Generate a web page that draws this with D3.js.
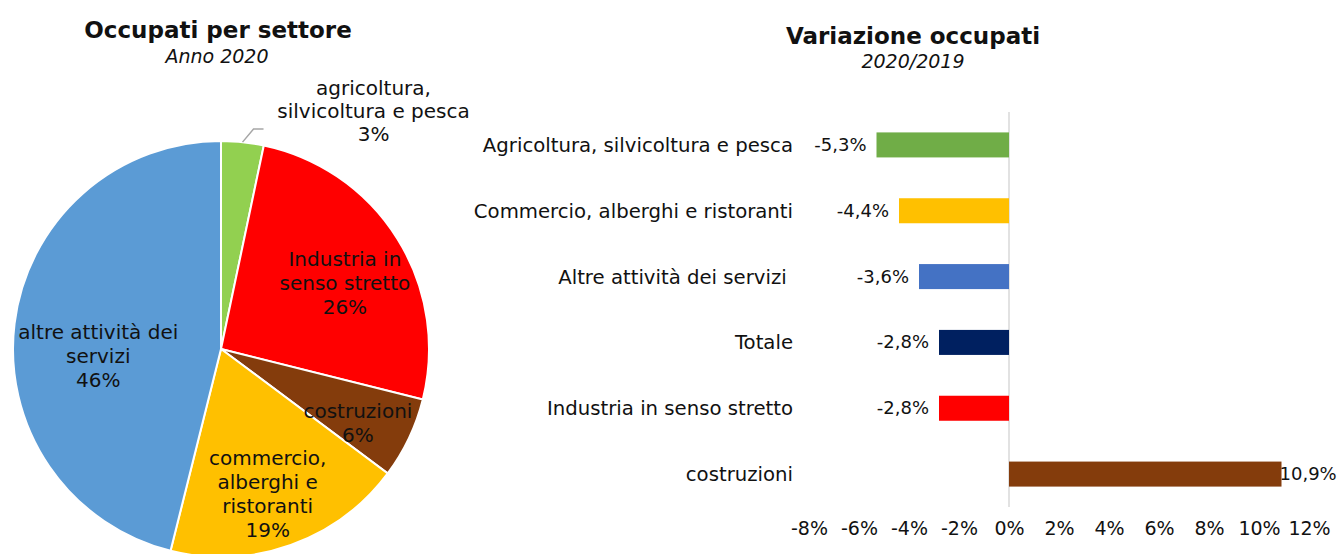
<!DOCTYPE html>
<html>
<head>
<meta charset="utf-8">
<script src="https://cdn.jsdelivr.net/npm/d3@7"></script>
<style>
  body { margin: 0; background: #fff; }
  svg text { font-family: "DejaVu Sans", Verdana, sans-serif; fill: #111; }
</style>
</head>
<body>
<svg id="chart" width="1337" height="554"></svg>
<script>
// pie data (anno 2020)
const pieNames = [
    ["agricoltura,", "silvicoltura e pesca"],
    ["Industria in", "senso stretto"],
    ["costruzioni"],
    ["commercio,", "alberghi e", "ristoranti"],
    ["altre attività dei", "servizi"]
];
const pieValues = [3.3, 25.6, 6.3, 18.7, 46.1];
const pieColors = ["#92D050", "#FF0000", "#843C0C", "#FFC000", "#5B9BD5"];

// bar data (variazione 2020/2019)
const barCategories = [
    "Agricoltura, silvicoltura e pesca",
    "Commercio, alberghi e ristoranti",
    "Altre attività dei servizi ",
    "Totale",
    "Industria in senso stretto",
    "costruzioni"
];
const barValues = [-5.3, -4.4, -3.6, -2.8, -2.8, 10.9];
const barColors = ["#70AD47", "#FFC000", "#4472C4", "#002060", "#FF0000", "#843C0C"];
const tickValues = [-8, -6, -4, -2, 0, 2, 4, 6, 8, 10, 12];

const svg = d3.select("#chart");

// ---------- pie ----------
const cx = 221, cy = 349, radius = 208;
const labelRadius = [null, 0.68, 0.75, 0.74, 0.58]; // how far inside each label sits
const labelShift = [null, [4, 9], [-4, 7], [-5, 0], [-3, 22]]; // small nudges like excel's best fit

const pieGroup = svg.append("g").attr("transform", "translate(" + cx + "," + cy + ")");
const pie = d3.pie().sort(null).value(d => d);
const arcs = pie(pieValues);
const arc = d3.arc().innerRadius(0).outerRadius(radius);

pieGroup.selectAll("path")
    .data(arcs)
    .enter().append("path")
    .attr("d", arc)
    .attr("fill", (d, i) => pieColors[i])
    .attr("stroke", "#fff")
    .attr("stroke-width", 2);

// inside labels
arcs.forEach(function (d, i) {
    if (labelRadius[i] === null) return;
    const r = radius * labelRadius[i];
    const c = d3.arc().innerRadius(r).outerRadius(r).centroid(d);
    const lines = pieNames[i].concat([Math.round(pieValues[i]) + "%"]);
    const t = pieGroup.append("text")
        .attr("text-anchor", "middle")
        .style("font-size", "20px");
    lines.forEach(function (line, k) {
        t.append("tspan")
            .attr("x", c[0] + labelShift[i][0])
            .attr("y", c[1] + labelShift[i][1] + 7 + (k - (lines.length - 1) / 2) * 24)
            .text(line);
    });
});

// outside label for agricoltura with leader line
const edge = d3.arc().innerRadius(radius).outerRadius(radius).centroid(arcs[0]);
pieGroup.append("polyline")
    .attr("points", [edge, [edge[0] + 11, edge[1] - 13], [edge[0] + 21, edge[1] - 13]].map(p => p.join(",")).join(" "))
    .attr("fill", "none")
    .attr("stroke", "#a6a6a6")
    .attr("stroke-width", 1.5);

const outLines = pieNames[0].concat([Math.round(pieValues[0]) + "%"]);
const outText = pieGroup.append("text")
    .attr("text-anchor", "middle")
    .style("font-size", "20px");
outLines.forEach(function (line, k) {
    outText.append("tspan")
        .attr("x", edge[0] + 131)
        .attr("y", edge[1] - 47 + k * 23)
        .text(line);
});

// pie titles
svg.append("text")
    .attr("x", 218).attr("y", 38)
    .attr("text-anchor", "middle")
    .style("font-size", "23px").style("font-weight", "bold")
    .text("Occupati per settore");
svg.append("text")
    .attr("x", 217).attr("y", 63)
    .attr("text-anchor", "middle")
    .style("font-size", "19px").style("font-style", "italic")
    .text("Anno 2020");

// ---------- bars ----------
const x = d3.scaleLinear().domain([-8, 12]).range([809, 1309]);
const y = d3.scaleBand().domain(barCategories).range([112, 507])
    .paddingInner(0.62).paddingOuter(0.31);
const fmt = v => d3.format(".1f")(v).replace("−", "-").replace(".", ",") + "%";

// zero line
svg.append("line")
    .attr("x1", x(0)).attr("x2", x(0))
    .attr("y1", 112).attr("y2", 507)
    .attr("stroke", "#d9d9d9")
    .attr("stroke-width", 1.5);

svg.selectAll(".bar")
    .data(barValues)
    .enter().append("rect")
    .attr("class", "bar")
    .attr("x", d => x(Math.min(0, d)))
    .attr("y", (d, i) => y(barCategories[i]))
    .attr("width", d => Math.abs(x(d) - x(0)))
    .attr("height", y.bandwidth())
    .attr("fill", (d, i) => barColors[i]);

// category labels
svg.selectAll(".cat")
    .data(barCategories)
    .enter().append("text")
    .attr("class", "cat")
    .attr("x", 793)
    .attr("y", d => y(d) + y.bandwidth() / 2 + 7)
    .attr("text-anchor", "end")
    .style("font-size", "19.7px")
    .style("white-space", "pre")
    .text(d => d);

// value labels
svg.selectAll(".val")
    .data(barValues)
    .enter().append("text")
    .attr("class", "val")
    .attr("x", d => d < 0 ? x(d) - 10 : x(d) - 2)
    .attr("y", (d, i) => y(barCategories[i]) + y.bandwidth() / 2 + 6)
    .attr("text-anchor", d => d < 0 ? "end" : "start")
    .style("font-size", "18px")
    .text(fmt);

// x axis
const axis = svg.append("g")
    .attr("transform", "translate(0,517)")
    .call(d3.axisBottom(x).tickValues(tickValues).tickSize(0).tickPadding(4).tickFormat(d => d + "%"));
axis.select(".domain").remove();
axis.selectAll("text")
    .style("font-size", "19px")
    .style("font-family", "DejaVu Sans, sans-serif")
    .attr("fill", "#111");

// bar titles
svg.append("text")
    .attr("x", 913).attr("y", 44)
    .attr("text-anchor", "middle")
    .style("font-size", "23px").style("font-weight", "bold")
    .text("Variazione occupati");
svg.append("text")
    .attr("x", 913).attr("y", 68)
    .attr("text-anchor", "middle")
    .style("font-size", "19px").style("font-style", "italic")
    .text("2020/2019");
</script>
</body>
</html>
